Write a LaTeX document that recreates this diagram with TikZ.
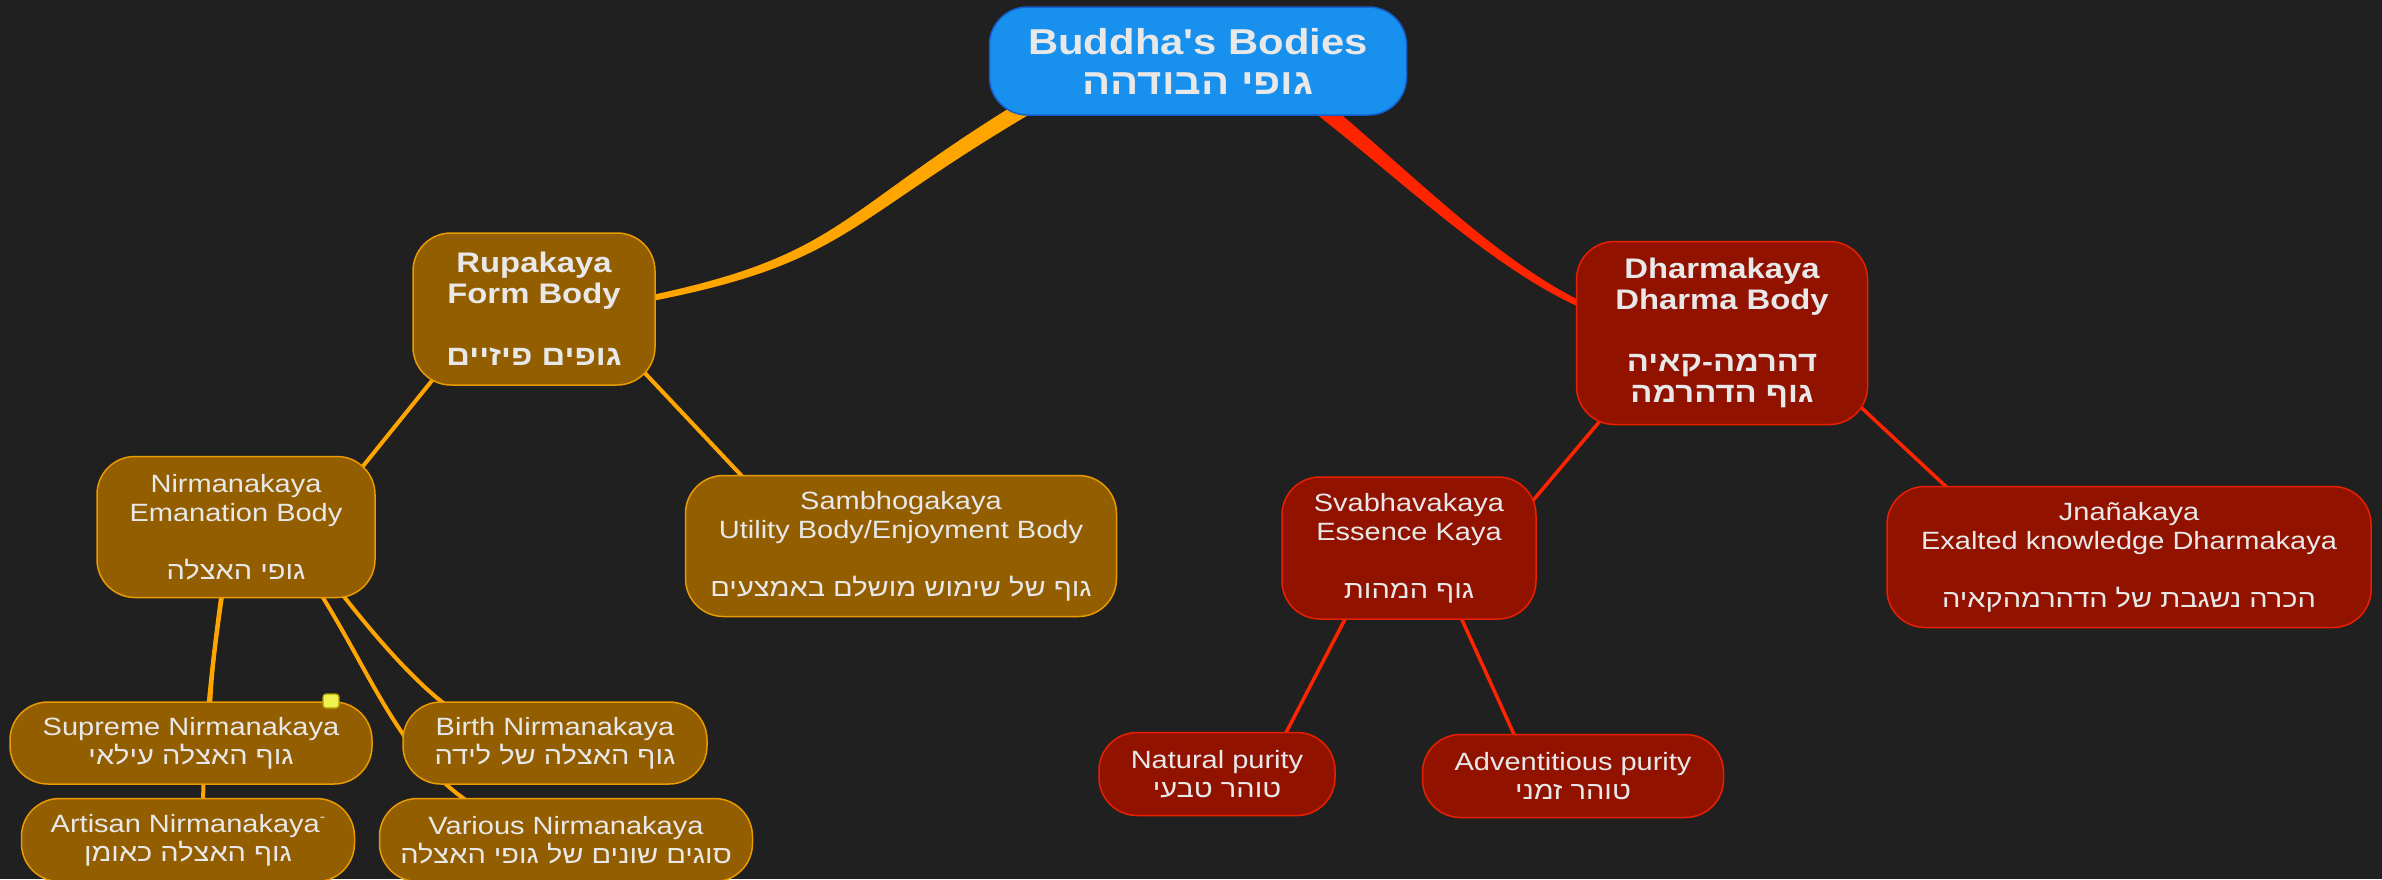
\documentclass[tikz,border=0pt]{standalone}
\usepackage{fontspec}
\newfontfamily\mainf{Liberation Sans}[FakeStretch=1.16]
\newfontfamily\heb{Liberation Sans}[Script=Hebrew,FakeStretch=1.16]
\TeXXeTstate=1
\usetikzlibrary{calc}
\definecolor{bgc}{HTML}{202020}
\definecolor{txt}{HTML}{E8E8E8}
\definecolor{rootf}{HTML}{1890EE}
\definecolor{rootb}{HTML}{1560D0}
\definecolor{brnf}{HTML}{935E00}
\definecolor{brnb}{HTML}{E89A00}
\definecolor{orl}{HTML}{FFA500}
\definecolor{rdf}{HTML}{921200}
\definecolor{rdb}{HTML}{E82000}
\definecolor{rdl}{HTML}{FF2400}
\definecolor{ylf}{HTML}{F0F050}
\definecolor{ylb}{HTML}{B0A000}
\newcommand\hb[1]{{\heb\beginR #1\endR}}
\newcommand\smalldash{\raisebox{11pt}{\fontsize{14}{14}\selectfont -}}
\pgfdeclarelayer{bglayer}
\pgfdeclarelayer{edges}
\pgfsetlayers{bglayer,edges,main}
\tikzset{
  box/.style={draw, rounded corners=38pt, line width=1.5pt, text=txt, align=center, inner sep=0pt,
    font=\mainf\fontsize{25}{29}\selectfont},
  bnode/.style={box, fill=brnf, draw=brnb},
  rnode/.style={box, fill=rdf, draw=rdb},
  boldtxt/.style={font=\mainf\fontsize{28.3}{31}\selectfont\bfseries},
  rootn/.style={box, fill=rootf, draw=rootb, font=\mainf\fontsize{36}{40}\selectfont\bfseries},
  oline/.style={draw=orl, line width=4pt},
  rline/.style={draw=rdl, line width=3.5pt},
  marker/.style={draw=ylb, fill=ylf, line width=1.2pt, rounded corners=3pt, minimum width=16pt, minimum height=14pt, inner sep=0pt},
}
\begin{document}
\begin{tikzpicture}[x=1pt,y=-1pt]
\useasboundingbox (0,0) rectangle (2382,879);
\begin{pgfonlayer}{bglayer}
\fill[bgc] (0,0) rectangle (2382,879);
\end{pgfonlayer}

% nodes
\node[rootn, minimum width=417pt, minimum height=108pt] (root) at (1198,61) {Buddha's Bodies\\\hb{גופי הבודהה}};
\node[bnode, boldtxt, minimum width=242pt, minimum height=152pt] (rupa) at (534,309) {Rupakaya\\Form Body\\[31pt]\hb{גופים פיזיים}};
\node[rnode, boldtxt, minimum width=291pt, minimum height=183pt] (dharma) at (1722,333) {Dharmakaya\\Dharma Body\\[31pt]\hb{דהרמה-קאיה}\\\hb{גוף הדהרמה}};
\node[bnode, minimum width=278pt, minimum height=141pt] (nir) at (236,527) {Nirmanakaya\\Emanation Body\\[29pt]\hb{גופי האצלה}};
\node[bnode, minimum width=431pt, minimum height=141pt] (samb) at (901,546) {Sambhogakaya\\Utility Body/Enjoyment Body\\[29pt]\hb{גוף של שימוש מושלם באמצעים}};
\node[rnode, minimum width=254pt, minimum height=142pt] (svab) at (1409,548) {Svabhavakaya\\Essence Kaya\\[29pt]\hb{גוף המהות}};
\node[rnode, minimum width=484pt, minimum height=141pt] (jnana) at (2129,557) {Jnañakaya\\Exalted knowledge Dharmakaya\\[29pt]\hb{הכרה נשגבת של הדהרמהקאיה}};
\node[bnode, minimum width=362pt, minimum height=82pt] (supreme) at (191,743) {Supreme Nirmanakaya\\\hb{גוף האצלה עילאי}};
\node[bnode, minimum width=333pt, minimum height=83pt] (artisan) at (188,840) {Artisan Nirmanakaya\smalldash\\\hb{גוף האצלה כאומן}};
\node[bnode, minimum width=304pt, minimum height=82pt] (birth) at (555,743) {Birth Nirmanakaya\\\hb{גוף האצלה של לידה}};
\node[bnode, minimum width=373pt, minimum height=83pt] (various) at (566,840) {Various Nirmanakaya\\\hb{סוגים שונים של גופי האצלה}};
\node[rnode, minimum width=236pt, minimum height=83pt] (natural) at (1217,774) {Natural purity\\\hb{טוהר טבעי}};
\node[rnode, minimum width=301pt, minimum height=83pt] (advent) at (1573,776) {Adventitious purity\\\hb{טוהר זמני}};
\node[marker] (note) at (331,701) {};

% connectors
\begin{pgfonlayer}{edges}
\fill[orl] ($(root.center)+(-164,32)$) .. controls ($(root.center)+(-362,150.9)$) and ($(rupa.center)+(311.2,-55.1)$) .. ($(rupa.center)+(117.4,-13.9)$)
  -- ($(rupa.center)+(118.6,-8.1)$) .. controls ($(rupa.center)+(314.8,-46.9)$) and ($(root.center)+(-354,161.1)$) .. ($(root.center)+(-156,46)$) -- cycle;
\fill[rdl] ($(root.center)+(117,31.7)$) .. controls ($(root.center)+(206.3,104.2)$) and ($(dharma.center)+(-230.1,-75.1)$) .. ($(dharma.center)+(-138.7,-30.7)$)
  -- ($(dharma.center)+(-141.3,-25.3)$) .. controls ($(dharma.center)+(-233.9,-66.9)$) and ($(root.center)+(197.7,113.8)$) .. ($(root.center)+(107,44.3)$) -- cycle;

\draw[oline] ($(rupa.center)+(-79,43)$) -- ($(nir.center)+(111,-41)$);
\draw[oline] ($(rupa.center)+(92,44)$) -- ($(samb.center)+(-145,-55)$);
\draw[oline] ($(nir.center)+(-13,63)$) .. controls ($(nir.center)+(-22,123)$) and ($(supreme.center)+(20,-63)$) .. ($(supreme.center)+(19,-33)$);
\draw[oline] ($(nir.center)+(-14,63)$) .. controls ($(nir.center)+(-26,153)$) and ($(artisan.center)+(16,-100)$) .. ($(artisan.center)+(15,-35)$);
\draw[oline] ($(nir.center)+(99,58)$) .. controls ($(nir.center)+(135,105)$) and ($(birth.center)+(-140,-60)$) .. ($(birth.center)+(-105,-35)$);
\draw[oline] ($(nir.center)+(79,58)$) .. controls ($(nir.center)+(134,143)$) and ($(various.center)+(-166,-80)$) .. ($(various.center)+(-91,-34)$);

\draw[rline] ($(dharma.center)+(-117,82)$) -- ($(svab.center)+(116,-38)$);
\draw[rline] ($(dharma.center)+(128,64)$) -- ($(jnana.center)+(-159,-48)$);
\draw[rline] ($(svab.center)+(-54,52)$) -- ($(natural.center)+(61,-26)$);
\draw[rline] ($(svab.center)+(44,52)$) -- ($(advent.center)+(-51,-24)$);
\end{pgfonlayer}
\end{tikzpicture}
\end{document}
